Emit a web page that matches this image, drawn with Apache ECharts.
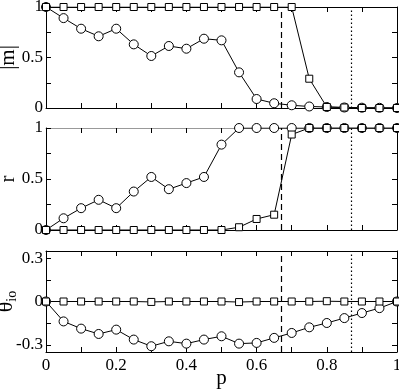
<!DOCTYPE html>
<html>
<head>
<meta charset="utf-8">
<script src="https://cdn.jsdelivr.net/npm/echarts@6/dist/echarts.min.js"></script>
<style>
  html, body { margin: 0; padding: 0; background: #fff; }
  #main { width: 399px; height: 389px; }
</style>
</head>
<body>
<div id="main"></div>
<script>
var pValues = [0, 0.05, 0.1, 0.15, 0.2, 0.25, 0.3, 0.35, 0.4, 0.45, 0.5,
               0.55, 0.6, 0.65, 0.7, 0.75, 0.8, 0.85, 0.9, 0.95, 1];
// |m|
var magCircle = [1, 0.89, 0.785, 0.71, 0.785, 0.63, 0.515, 0.614, 0.587, 0.686, 0.67,
                 0.353, 0.089, 0.047, 0.027, 0.015, 0.01, 0.005, 0.003, 0.002, 0];
var magSquare = [1, 1, 1, 1, 1, 1, 1, 1, 1, 1, 1,
                 1, 1, 1, 1, 0.29, 0.01, 0.005, 0, 0, 0];
// r
var rCircle = [0, 0.115, 0.214, 0.296, 0.214, 0.377, 0.52, 0.40, 0.46, 0.52, 0.837,
               1, 1, 1, 1, 1, 1, 1, 1, 1, 1];
var rSquare = [0, 0, 0, 0, 0, 0, 0, 0, 0, 0, 0,
               0.027, 0.108, 0.15, 0.936, 1, 1, 1, 1, 1, 1];
// theta_io
var thetaCircle = [0, -0.138, -0.188, -0.225, -0.195, -0.264, -0.31, -0.276, -0.292, -0.264, -0.241,
                   -0.292, -0.287, -0.252, -0.218, -0.179, -0.149, -0.115, -0.08, -0.046, 0];
var thetaSquare = [0, 0, 0, 0, 0, 0, -0.003, 0, 0, 0, 0,
                   -0.004, 0, 0, 0, 0, 0.002, 0, 0, 0, 0];
// vertical reference lines (dashed, dotted)
var criticalP = [0.667, 0.87];

var serif = 'Liberation Serif';

function zip(xs, ys) {
    return xs.map(function (x, i) { return [x, ys[i]]; });
}

var grids = [
    {left: 46, right: 2, top: 7, height: 101, containLabel: false, outerBoundsMode: 'none'},
    {left: 46, right: 2, top: 128, height: 102, containLabel: false, outerBoundsMode: 'none'},
    {left: 46, right: 2, top: 251, height: 101, containLabel: false, outerBoundsMode: 'none'}
];

var xAxes = [];
var yAxes = [];
for (var g = 0; g < 3; g++) {
    ['bottom', 'top'].forEach(function (pos) {
        var showLabels = (g == 2 && pos == 'bottom');
        xAxes.push({
            type: 'value', gridIndex: g, position: pos,
            min: 0, max: 1, interval: 0.1,
            name: showLabels ? 'p' : '',
            nameLocation: 'middle', nameGap: 16, nameMoveOverlap: false,
            nameTextStyle: {fontFamily: serif, fontSize: 21, color: '#000'},
            axisLine: {show: true, onZero: false, lineStyle: {color: (g == 1 && pos == 'top') ? '#999' : '#000', width: 1}},
            axisTick: {show: true, inside: true, length: 5, lineStyle: {color: '#000'}},
            axisLabel: {
                show: showLabels, fontFamily: serif, fontSize: 17, color: '#000', margin: 5,
                formatter: function (v) {
                    var k = Math.round(v * 10);
                    return k % 2 == 0 ? String(k / 10) : '';
                }
            },
            splitLine: {show: false}
        });
    });
}

var yNames = ['|m|', 'r', '{a|θ}{b|io}'];
var yCfg = [
    {min: 0, max: 1, interval: 0.25, labels: [0, 0.5, 1]},
    {min: 0, max: 1, interval: 0.25, labels: [0, 0.5, 1]},
    {min: -0.35, max: 0.35, ticks: [-0.3, -0.15, 0, 0.15, 0.3], labels: [-0.3, 0, 0.3]}
];
for (var g = 0; g < 3; g++) {
    ['left', 'right'].forEach(function (pos) {
        var c = yCfg[g];
        var left = pos == 'left';
        var ax = {
            type: 'value', gridIndex: g, position: pos,
            min: c.min, max: c.max,
            name: left ? yNames[g] : '',
            nameLocation: 'middle', nameRotate: 90, nameGap: 27, nameMoveOverlap: false,
            nameTextStyle: {
                fontFamily: serif, fontSize: 21, color: '#000',
                rich: {
                    a: {fontFamily: serif, fontSize: 22, color: '#000'},
                    b: {fontFamily: serif, fontSize: 14, color: '#000', verticalAlign: 'bottom', padding: [12, 0, 0, 0]}
                }
            },
            axisLine: {show: true, onZero: false, lineStyle: {color: '#000', width: 1}},
            axisTick: {show: true, inside: true, length: 5, lineStyle: {color: '#000'}},
            axisLabel: {
                show: left, fontFamily: serif, fontSize: 17, color: '#000', margin: 3,
                formatter: function (v) { return String(Math.round(v * 100) / 100); }
            },
            splitLine: {show: false}
        };
        if (c.interval) {
            ax.interval = c.interval;
            ax.axisLabel.customValues = c.labels;
        } else {
            ax.axisTick.customValues = c.ticks;
            ax.axisLabel.customValues = c.labels;
        }
        yAxes.push(ax);
    });
}

var circleStyle = {color: '#fff', borderColor: '#000', borderWidth: 1};
var lineStyle = {color: '#000', width: 1};

function makeSeries(g, data, symbol, size, withLines) {
    var s = {
        type: 'line', xAxisIndex: g * 2, yAxisIndex: g * 2,
        data: zip(pValues, data),
        symbol: symbol, symbolSize: size, showAllSymbol: true,
        itemStyle: circleStyle, lineStyle: lineStyle,
        animation: false, z: 3
    };
    if (withLines) {
        s.markLine = {
            silent: true, symbol: 'none', label: {show: false},
            data: [
                {xAxis: criticalP[0], lineStyle: {type: [6, 4], color: '#000', width: 1.2}},
                {xAxis: criticalP[1], lineStyle: {type: [1.5, 2.5], color: '#000', width: 1.2}}
            ]
        };
    }
    return s;
}

var series = [
    makeSeries(0, magCircle, 'circle', 9, true),
    makeSeries(0, magSquare, 'rect', 7, false),
    makeSeries(1, rCircle, 'circle', 9, true),
    makeSeries(1, rSquare, 'rect', 7, false),
    makeSeries(2, thetaCircle, 'circle', 9, true),
    makeSeries(2, thetaSquare, 'rect', 7, false)
];

var chart = echarts.init(document.getElementById('main'));
chart.setOption({
    backgroundColor: '#fff',
    animation: false,
    grid: grids,
    xAxis: xAxes,
    yAxis: yAxes,
    series: series
});
</script>
</body>
</html>
